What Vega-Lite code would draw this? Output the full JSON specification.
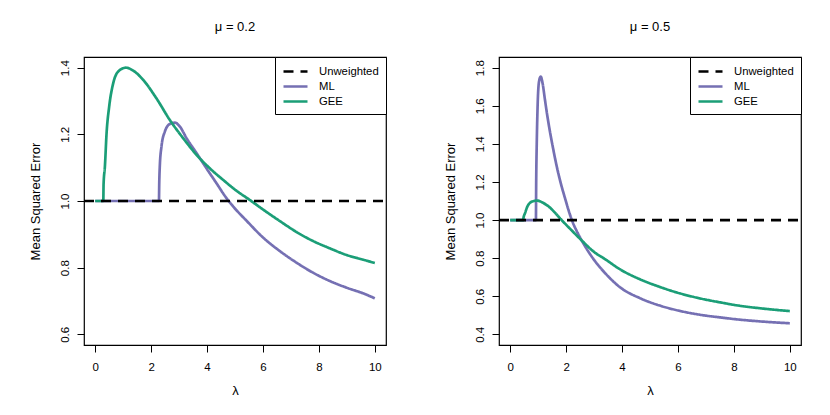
{
  "$schema": "https://vega.github.io/schema/vega-lite/v6.json",
  "padding": {"left": 28, "top": 19, "right": 5, "bottom": 5},
  "spacing": 113,
  "bounds": "flush",
  "datasets": {
    "mu02": [
      {"lambda": 0, "mse": 1.0, "method": "ML"},
      {"lambda": 2.28, "mse": 1.0, "method": "ML"},
      {"lambda": 2.29, "mse": 1.05, "method": "ML"},
      {"lambda": 2.31, "mse": 1.103, "method": "ML"},
      {"lambda": 2.37, "mse": 1.163, "method": "ML"},
      {"lambda": 2.49, "mse": 1.208, "method": "ML"},
      {"lambda": 2.67, "mse": 1.231, "method": "ML"},
      {"lambda": 2.85, "mse": 1.235, "method": "ML"},
      {"lambda": 3.03, "mse": 1.223, "method": "ML"},
      {"lambda": 3.27, "mse": 1.188, "method": "ML"},
      {"lambda": 3.63, "mse": 1.143, "method": "ML"},
      {"lambda": 3.98, "mse": 1.098, "method": "ML"},
      {"lambda": 4.34, "mse": 1.053, "method": "ML"},
      {"lambda": 4.70, "mse": 1.008, "method": "ML"},
      {"lambda": 4.94, "mse": 0.983, "method": "ML"},
      {"lambda": 5.41, "mse": 0.941, "method": "ML"},
      {"lambda": 6.01, "mse": 0.890, "method": "ML"},
      {"lambda": 6.60, "mse": 0.850, "method": "ML"},
      {"lambda": 7.20, "mse": 0.815, "method": "ML"},
      {"lambda": 7.79, "mse": 0.785, "method": "ML"},
      {"lambda": 8.39, "mse": 0.760, "method": "ML"},
      {"lambda": 8.99, "mse": 0.740, "method": "ML"},
      {"lambda": 9.58, "mse": 0.723, "method": "ML"},
      {"lambda": 10.0, "mse": 0.708, "method": "ML"},
      {"lambda": 0, "mse": 1.0, "method": "GEE"},
      {"lambda": 0.29, "mse": 1.0, "method": "GEE"},
      {"lambda": 0.30, "mse": 1.05, "method": "GEE"},
      {"lambda": 0.347, "mse": 1.103, "method": "GEE"},
      {"lambda": 0.407, "mse": 1.203, "method": "GEE"},
      {"lambda": 0.50, "mse": 1.283, "method": "GEE"},
      {"lambda": 0.644, "mse": 1.353, "method": "GEE"},
      {"lambda": 0.82, "mse": 1.388, "method": "GEE"},
      {"lambda": 1.10, "mse": 1.40, "method": "GEE"},
      {"lambda": 1.36, "mse": 1.391, "method": "GEE"},
      {"lambda": 1.72, "mse": 1.363, "method": "GEE"},
      {"lambda": 2.19, "mse": 1.308, "method": "GEE"},
      {"lambda": 2.67, "mse": 1.243, "method": "GEE"},
      {"lambda": 3.15, "mse": 1.188, "method": "GEE"},
      {"lambda": 3.63, "mse": 1.138, "method": "GEE"},
      {"lambda": 4.10, "mse": 1.098, "method": "GEE"},
      {"lambda": 4.58, "mse": 1.063, "method": "GEE"},
      {"lambda": 5.05, "mse": 1.031, "method": "GEE"},
      {"lambda": 5.53, "mse": 1.003, "method": "GEE"},
      {"lambda": 6.01, "mse": 0.974, "method": "GEE"},
      {"lambda": 6.60, "mse": 0.940, "method": "GEE"},
      {"lambda": 7.20, "mse": 0.907, "method": "GEE"},
      {"lambda": 7.79, "mse": 0.880, "method": "GEE"},
      {"lambda": 8.39, "mse": 0.858, "method": "GEE"},
      {"lambda": 8.99, "mse": 0.838, "method": "GEE"},
      {"lambda": 9.58, "mse": 0.824, "method": "GEE"},
      {"lambda": 10.0, "mse": 0.814, "method": "GEE"},
      {"lambda": -0.4, "mse": 1.0, "method": "Unweighted"},
      {"lambda": 10.4, "mse": 1.0, "method": "Unweighted"}
    ],
    "mu05": [
      {"lambda": 0, "mse": 1.0, "method": "ML"},
      {"lambda": 0.92, "mse": 1.0, "method": "ML"},
      {"lambda": 0.93, "mse": 1.2, "method": "ML"},
      {"lambda": 0.95, "mse": 1.40, "method": "ML"},
      {"lambda": 0.98, "mse": 1.595, "method": "ML"},
      {"lambda": 1.03, "mse": 1.726, "method": "ML"},
      {"lambda": 1.09, "mse": 1.753, "method": "ML"},
      {"lambda": 1.16, "mse": 1.717, "method": "ML"},
      {"lambda": 1.24, "mse": 1.635, "method": "ML"},
      {"lambda": 1.32, "mse": 1.555, "method": "ML"},
      {"lambda": 1.42, "mse": 1.466, "method": "ML"},
      {"lambda": 1.54, "mse": 1.372, "method": "ML"},
      {"lambda": 1.66, "mse": 1.285, "method": "ML"},
      {"lambda": 1.78, "mse": 1.210, "method": "ML"},
      {"lambda": 1.96, "mse": 1.115, "method": "ML"},
      {"lambda": 2.13, "mse": 1.032, "method": "ML"},
      {"lambda": 2.21, "mse": 0.998, "method": "ML"},
      {"lambda": 2.37, "mse": 0.945, "method": "ML"},
      {"lambda": 2.55, "mse": 0.895, "method": "ML"},
      {"lambda": 2.79, "mse": 0.836, "method": "ML"},
      {"lambda": 3.03, "mse": 0.785, "method": "ML"},
      {"lambda": 3.21, "mse": 0.752, "method": "ML"},
      {"lambda": 3.50, "mse": 0.705, "method": "ML"},
      {"lambda": 3.92, "mse": 0.648, "method": "ML"},
      {"lambda": 4.64, "mse": 0.590, "method": "ML"},
      {"lambda": 5.35, "mse": 0.551, "method": "ML"},
      {"lambda": 6.07, "mse": 0.523, "method": "ML"},
      {"lambda": 6.78, "mse": 0.503, "method": "ML"},
      {"lambda": 7.50, "mse": 0.489, "method": "ML"},
      {"lambda": 8.21, "mse": 0.477, "method": "ML"},
      {"lambda": 8.93, "mse": 0.468, "method": "ML"},
      {"lambda": 10.0, "mse": 0.458, "method": "ML"},
      {"lambda": 0, "mse": 1.0, "method": "GEE"},
      {"lambda": 0.46, "mse": 1.0, "method": "GEE"},
      {"lambda": 0.48, "mse": 1.015, "method": "GEE"},
      {"lambda": 0.525, "mse": 1.034, "method": "GEE"},
      {"lambda": 0.64, "mse": 1.078, "method": "GEE"},
      {"lambda": 0.82, "mse": 1.099, "method": "GEE"},
      {"lambda": 0.965, "mse": 1.102, "method": "GEE"},
      {"lambda": 1.18, "mse": 1.090, "method": "GEE"},
      {"lambda": 1.40, "mse": 1.068, "method": "GEE"},
      {"lambda": 1.60, "mse": 1.039, "method": "GEE"},
      {"lambda": 1.84, "mse": 1.0, "method": "GEE"},
      {"lambda": 2.19, "mse": 0.947, "method": "GEE"},
      {"lambda": 2.55, "mse": 0.894, "method": "GEE"},
      {"lambda": 3.03, "mse": 0.829, "method": "GEE"},
      {"lambda": 3.39, "mse": 0.795, "method": "GEE"},
      {"lambda": 3.92, "mse": 0.742, "method": "GEE"},
      {"lambda": 4.64, "mse": 0.689, "method": "GEE"},
      {"lambda": 5.35, "mse": 0.649, "method": "GEE"},
      {"lambda": 6.07, "mse": 0.615, "method": "GEE"},
      {"lambda": 6.78, "mse": 0.589, "method": "GEE"},
      {"lambda": 7.50, "mse": 0.568, "method": "GEE"},
      {"lambda": 8.21, "mse": 0.550, "method": "GEE"},
      {"lambda": 8.93, "mse": 0.537, "method": "GEE"},
      {"lambda": 10.0, "mse": 0.522, "method": "GEE"},
      {"lambda": -0.4, "mse": 1.0, "method": "Unweighted"},
      {"lambda": 10.4, "mse": 1.0, "method": "Unweighted"}
    ]
  },
  "hconcat": [
    {
      "width": 302,
      "height": 288,
      "title": "μ = 0.2",
      "data": {"name": "mu02"},
      "mark": {"type": "line", "strokeWidth": 2.7, "clip": true, "interpolate": "monotone"},
      "encoding": {
        "x": {"field": "lambda", "type": "quantitative", "title": "λ",
              "scale": {"domain": [-0.4, 10.4], "nice": false, "zero": false},
              "axis": {"values": [0, 2, 4, 6, 8, 10]}},
        "y": {"field": "mse", "type": "quantitative", "title": "Mean Squared Error",
              "scale": {"domain": [0.568, 1.432], "nice": false, "zero": false},
              "axis": {"values": [0.6, 0.8, 1.0, 1.2, 1.4], "format": ".1f"}},
        "color": {"field": "method", "type": "nominal", "sort": null,
                  "scale": {"domain": ["Unweighted", "ML", "GEE"], "range": ["#000000", "#7570B3", "#1B9E77"]}},
        "strokeDash": {"field": "method", "type": "nominal", "sort": null,
                  "scale": {"domain": ["Unweighted", "ML", "GEE"], "range": [[10, 7], [1, 0], [1, 0]]}},
        "order": {"field": "lambda"}
      }
    },
    {
      "width": 302,
      "height": 288,
      "title": "μ = 0.5",
      "data": {"name": "mu05"},
      "mark": {"type": "line", "strokeWidth": 2.7, "clip": true, "interpolate": "monotone"},
      "encoding": {
        "x": {"field": "lambda", "type": "quantitative", "title": "λ",
              "scale": {"domain": [-0.4, 10.4], "nice": false, "zero": false},
              "axis": {"values": [0, 2, 4, 6, 8, 10]}},
        "y": {"field": "mse", "type": "quantitative", "title": "Mean Squared Error",
              "scale": {"domain": [0.344, 1.856], "nice": false, "zero": false},
              "axis": {"values": [0.4, 0.6, 0.8, 1.0, 1.2, 1.4, 1.6, 1.8], "format": ".1f"}},
        "color": {"field": "method", "type": "nominal", "sort": null,
                  "scale": {"domain": ["Unweighted", "ML", "GEE"], "range": ["#000000", "#7570B3", "#1B9E77"]}},
        "strokeDash": {"field": "method", "type": "nominal", "sort": null,
                  "scale": {"domain": ["Unweighted", "ML", "GEE"], "range": [[10, 7], [1, 0], [1, 0]]}},
        "order": {"field": "lambda"}
      }
    }
  ],
  "resolve": {
    "scale": {"y": "independent", "color": "independent", "strokeDash": "independent"},
    "legend": {"color": "independent", "strokeDash": "independent"}
  },
  "config": {
    "font": "Liberation Sans",
    "view": {"stroke": "#000000", "strokeWidth": 1.2},
    "axis": {
      "grid": false,
      "domain": false,
      "ticks": true,
      "tickColor": "#000000",
      "tickSize": 7,
      "tickWidth": 1,
      "labelFont": "Liberation Sans",
      "labelFontSize": 11.5,
      "labelColor": "#000000",
      "titleFont": "Liberation Sans",
      "titleFontSize": 13,
      "titleFontWeight": "normal",
      "titleColor": "#000000"
    },
    "axisX": {"labelPadding": 9, "titlePadding": 12},
    "axisY": {"labelAngle": -90, "labelAlign": "center", "labelBaseline": "bottom", "labelPadding": 7, "titlePadding": 17},
    "title": {"font": "Liberation Sans", "fontSize": 13, "fontWeight": "normal", "color": "#000000", "offset": 23},
    "legend": {
      "orient": "top-right",
      "offset": 0,
      "title": null,
      "strokeColor": "#000000",
      "fillColor": "#ffffff",
      "padding": 7,
      "symbolType": "M-1,0H3",
      "symbolSize": 144,
      "symbolStrokeWidth": 2.7,
      "labelFont": "Liberation Sans",
      "labelFontSize": 11.3,
      "labelColor": "#000000",
      "labelOffset": 22,
      "rowPadding": 2
    }
  }
}
